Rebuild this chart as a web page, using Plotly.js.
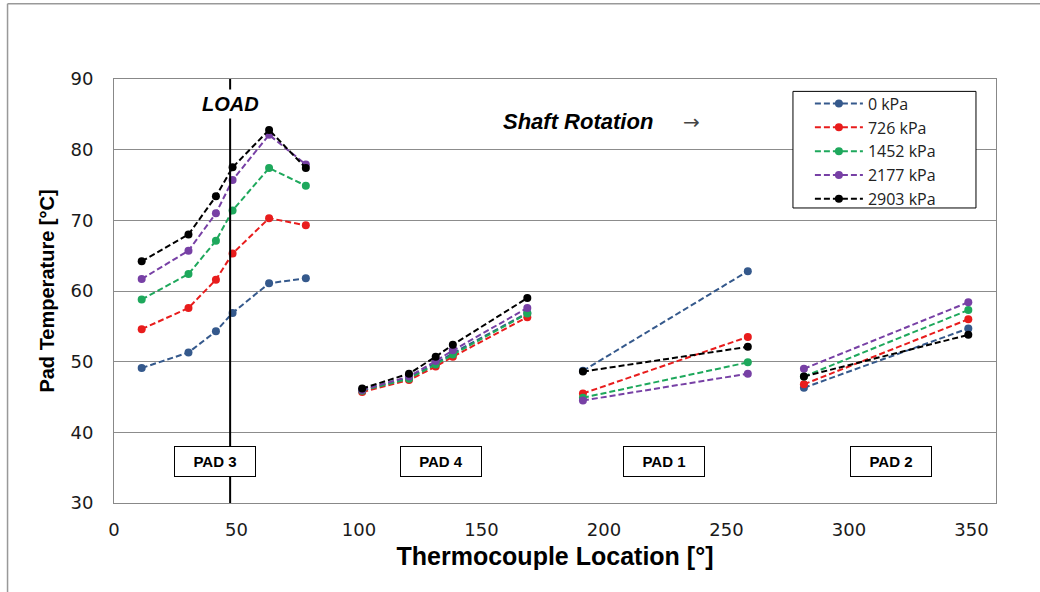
<!DOCTYPE html>
<html>
<head>
<meta charset="utf-8">
<script src="https://cdn.plot.ly/plotly-3.0.1.min.js"></script>
<style>
html,body{margin:0;padding:0;background:#fff;}
#chart{width:1040px;height:592px;}
</style>
</head>
<body>
<div id="chart"></div>
<script>
// Thermocouple locations [deg]; null breaks the line between pads
const tcLocation = [11.3, 30.4, 41.6, 48.4, 63.3, 78.3, null,
                    101.3, 120.4, 131.3, 138.3, 168.7, null,
                    191.4, 258.7, null,
                    281.6, 348.7];

// Pad temperatures [°C] per supply pressure
const temp0    = [49.1, 51.3, 54.3, 56.9, 61.1, 61.8, null, 46.0, 47.7, 49.8, 51.2, 56.9, null, 48.7, 62.8, null, 46.3, 54.7];
const temp726  = [54.6, 57.6, 61.6, 65.3, 70.3, 69.3, null, 45.7, 47.4, 49.3, 50.7, 56.3, null, 45.5, 53.5, null, 46.8, 56.0];
const temp1452 = [58.8, 62.4, 67.1, 71.4, 77.4, 74.9, null, 45.9, 47.6, 49.6, 51.0, 56.8, null, 44.9, 49.9, null, 47.9, 57.3];
const temp2177 = [61.7, 65.7, 71.0, 75.7, 82.1, 77.9, null, 46.0, 47.9, 50.1, 51.6, 57.6, null, 44.5, 48.3, null, 49.0, 58.4];
const temp2903 = [64.2, 68.0, 73.4, 77.5, 82.8, 77.4, null, 46.2, 48.3, 50.7, 52.4, 59.0, null, 48.6, 52.1, null, 47.9, 53.8];

const seriesNames = ['0 kPa', '726 kPa', '1452 kPa', '2177 kPa', '2903 kPa'];
const seriesValues = [temp0, temp726, temp1452, temp2177, temp2903];
const seriesColors = ['#35598c', '#e81c1c', '#1ea85c', '#7740a5', '#000000'];

const padLabels = ['PAD 3', 'PAD 4', 'PAD 1', 'PAD 2'];
const padLabelX = [41.2, 133.6, 224.4, 317.1];
const loadLocation = 47.4;

const xTicks = [0, 50, 100, 150, 200, 250, 300, 350];
const yTicks = [30, 40, 50, 60, 70, 80, 90];

const traces = seriesNames.map((name, i) => ({
  type: 'scatter',
  mode: 'lines+markers',
  name: name,
  x: tcLocation,
  y: seriesValues[i],
  connectgaps: false,
  line: {color: seriesColors[i], width: 2, dash: '6px,3px'},
  marker: {color: seriesColors[i], size: 8, symbol: 'circle'}
}));

const annotations = padLabels.map((t, i) => ({
  xref: 'x', yref: 'y', x: padLabelX[i], y: 35.9,
  text: '<b>' + t + '</b>', showarrow: false,
  font: {family: 'Liberation Sans, Arial, sans-serif', size: 15, color: '#000'},
  bgcolor: '#ffffff', bordercolor: '#000000', borderwidth: 1,
  width: 78, height: 27, borderpad: 1
}));

annotations.push({
  xref: 'x', yref: 'y', x: loadLocation, y: 86.5,
  text: '<b><i>LOAD</i></b>', showarrow: false,
  font: {family: 'Liberation Sans, Arial, sans-serif', size: 20, color: '#000'},
  bgcolor: '#ffffff', borderpad: 3
});
annotations.push({
  xref: 'x', yref: 'y', x: 189.5, y: 84.0,
  text: '<b><i>Shaft Rotation</i></b>', showarrow: false,
  font: {family: 'Liberation Sans, Arial, sans-serif', size: 22, color: '#000'}
});
annotations.push({
  xref: 'x', yref: 'y', x: 235.8, y: 83.9,
  text: '→', showarrow: false,
  font: {family: 'DejaVu Sans, sans-serif', size: 20, color: '#444'}
});

const shapes = [
  {type: 'line', xref: 'x', yref: 'y', x0: loadLocation, x1: loadLocation, y0: 30, y1: 90,
   line: {color: '#000', width: 2}},
  // legend frame
  {type: 'rect', xref: 'paper', yref: 'paper', x0: 0.7698, x1: 0.9773, y0: 0.6958, y1: 0.9708,
   fillcolor: '#ffffff', line: {color: '#000', width: 1}, layer: 'above'},
  // outer chart frame (left and top edges)
  {type: 'line', xref: 'paper', yref: 'paper', x0: -0.1207, x1: -0.1207, y0: -0.22, y1: 1.1776,
   line: {color: '#999', width: 1.5}},
  {type: 'line', xref: 'paper', yref: 'paper', x0: -0.1207, x1: 1.06, y0: 1.1776, y1: 1.1776,
   line: {color: '#999', width: 1.5}}
];

const layout = {
  width: 1040, height: 592,
  margin: {l: 114, r: 44, t: 79, b: 89},
  paper_bgcolor: '#ffffff', plot_bgcolor: '#ffffff',
  showlegend: true,
  legend: {
    x: 0.789, y: 0.982, xanchor: 'left', yanchor: 'top',
    bgcolor: 'rgba(0,0,0,0)', borderwidth: 0,
    font: {family: 'Open Sans, sans-serif', size: 16, color: '#222'},
    itemwidth: 48, tracegroupgap: 0
  },
  xaxis: {
    range: [0, 360], tickvals: xTicks, ticks: '', showgrid: false, zeroline: false,
    showline: true, mirror: true, linecolor: '#888', linewidth: 1,
    tickfont: {family: 'DejaVu Sans, sans-serif', size: 18, color: '#1a1a1a'},
    ticklabelstandoff: 10,
    title: {text: '<b>Thermocouple Location [°]</b>', standoff: 8,
            font: {family: 'Liberation Sans, Arial, sans-serif', size: 25, color: '#000'}}
  },
  yaxis: {
    range: [30, 90], tickvals: yTicks, ticks: '', showgrid: true, gridcolor: '#8c8c8c', gridwidth: 1,
    zeroline: false, showline: true, mirror: true, linecolor: '#888', linewidth: 1,
    tickfont: {family: 'DejaVu Sans, sans-serif', size: 18, color: '#1a1a1a'},
    ticklabelstandoff: 16,
    title: {text: '<b>Pad Temperature [°C]</b>', standoff: 10,
            font: {family: 'Liberation Sans, Arial, sans-serif', size: 20, color: '#000'}}
  },
  annotations: annotations,
  shapes: shapes
};

Plotly.newPlot('chart', traces, layout, {displayModeBar: false, staticPlot: true});
</script>
</body>
</html>
